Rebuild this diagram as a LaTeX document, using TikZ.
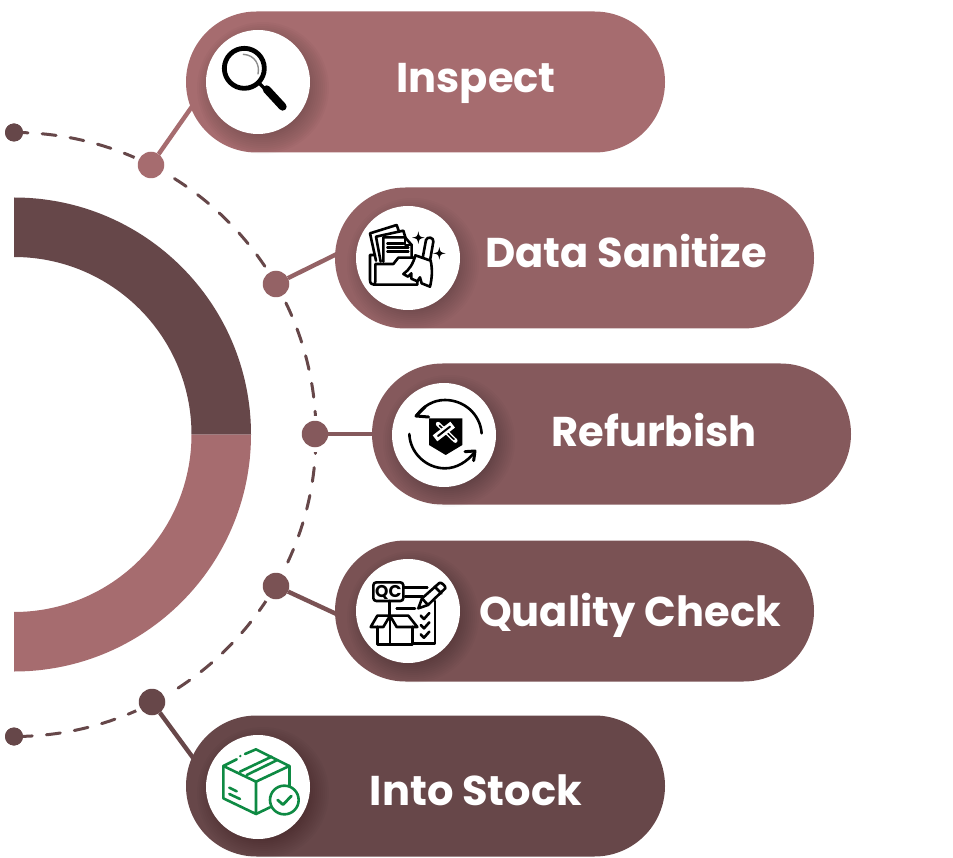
\documentclass[tikz,border=0pt]{standalone}
\usepackage{fontspec}
\setmainfont{Poppins}
\usetikzlibrary{shapes.misc}
\definecolor{cA}{HTML}{A66C6F}
\definecolor{cB}{HTML}{946265}
\definecolor{cC}{HTML}{85595C}
\definecolor{cD}{HTML}{7A5254}
\definecolor{cE}{HTML}{674749}
\definecolor{cDark}{HTML}{664749}
\definecolor{cGreen}{HTML}{0E8A43}
\tikzset{
  pill/.style={rounded rectangle,minimum width=479pt,minimum height=141pt,inner sep=0pt,outer sep=0pt,fill=#1},
  disc/.style={circle,minimum size=104pt,inner sep=0pt,outer sep=0pt,fill=white},
  dot/.style={circle,minimum size=26.5pt,inner sep=0pt,outer sep=0pt,fill=#1},
  halo/.style={circle,minimum size=36pt,inner sep=0pt,outer sep=0pt,fill=white},
  smalldot/.style={circle,minimum size=18pt,inner sep=0pt,outer sep=0pt,fill=cDark},
  conn/.style={line width=4.4pt,draw=#1},
  label/.style={anchor=base,text=white,font=\fontsize{41.6}{41.6}\selectfont\bfseries},
  iconat/.style 2 args={shift={(#1,#2)},x=0.33333pt,y=-0.33333pt,line join=round,line cap=round},
  ink/.style={draw=black,line width=2.6pt,fill=none},
  inkgreen/.style={draw=cGreen,line width=2.6pt,fill=none},
}
\newcommand{\softshadow}[2]{%
  \foreach \rr in {66,64,...,46}{\fill[black,opacity=0.018] (#1+5,#2+6) circle[radius=\rr pt];}}
\newcommand{\sparkle}[3]{\fill[black] (#1,#2-#3) .. controls (#1+3,#2-3) .. (#1+#3,#2) .. controls (#1+3,#2+3) .. (#1,#2+#3) .. controls (#1-3,#2+3) .. (#1-#3,#2) .. controls (#1-3,#2-3) .. (#1,#2-#3) -- cycle;}
\begin{document}
\begin{tikzpicture}[x=1pt,y=-1pt]
\useasboundingbox (0,0) rectangle (953,858);
% ring
\fill[cDark] (14,197.5) arc[start angle=90,end angle=0,radius=237pt] -- (191.5,434.5) arc[start angle=0,end angle=90,radius=177.5pt] -- cycle;
\fill[cA] (14,671.5) arc[start angle=-90,end angle=0,radius=237pt] -- (191.5,434.5) arc[start angle=0,end angle=-90,radius=177.5pt] -- cycle;
% dashed arc
\node[smalldot] (top) at (14,132.5) {};
\node[smalldot] (bot) at (14,736.5) {};
\draw[cDark,line width=3pt,line cap=round,dash pattern=on 14pt off 14.2pt] (top.center) arc[start angle=90,end angle=-90,radius=302pt];
\node[smalldot] at (top.center) {};
\node[smalldot] at (bot.center) {};
% dots and anchor points
\node[halo] at (151,165) {};
\node[halo] at (276,284) {};
\node[halo] at (315,434) {};
\node[halo] at (276,586) {};
\node[halo] at (152,702) {};
\node[dot=cA] (d1) at (151,165) {};
\node[dot=cB] (d2) at (276,284) {};
\node[dot=cC] (d3) at (315,434) {};
\node[dot=cD] (d4) at (276,586) {};
\node[dot=cE] (d5) at (152,702) {};
\coordinate (e1) at (198,98);
\coordinate (e2) at (345,250);
\coordinate (e3) at (380,434);
\coordinate (e4) at (345,618);
\coordinate (e5) at (202,770);
\draw[conn=cA] (d1) -- (e1);
\draw[conn=cB] (d2) -- (e2);
\draw[conn=cC] (d3) -- (e3);
\draw[conn=cD] (d4) -- (e4);
\draw[conn=cE] (d5) -- (e5);
% pills
\node[pill=cA] (p1) at (425.5,82) {};
\node[pill=cB] (p2) at (574.5,258) {};
\node[pill=cC] (p3) at (611.5,434) {};
\node[pill=cD] (p4) at (574.5,611) {};
\node[pill=cE] (p5) at (425.5,786) {};
\softshadow{258}{82}
\softshadow{408}{258}
\softshadow{444}{435}
\softshadow{408}{611}
\softshadow{258}{787}
\node[disc] (c1) at (258,82) {};
\node[disc] (c2) at (408,258) {};
\node[disc] (c3) at (444,435) {};
\node[disc] (c4) at (408,611) {};
\node[disc] (c5) at (258,787) {};
\node[label] (t1) at (476,93) {Inspect};
\node[label] (t2) at (626,268) {Data Sanitize};
\node[label] (t3) at (654,446) {Refurbish};
\node[label] (t4) at (630,626) {Quality Check};
\node[label] (t5) at (476,805) {Into Stock};
% magnifier
\begin{scope}[iconat={180}{0}]
\draw[black,line width=4.8pt] (193,205) circle[radius=60];
\draw[black!45,line width=1.4pt] (190,163) .. controls (225,165) and (240,195) .. (234,222);
\draw[black,line width=3.5pt,line cap=butt] (238,250) -- (258,270);
\draw[black,line width=8pt] (260,268) -- (308,320);
\end{scope}
% folder and broom
\begin{scope}[iconat={340}{190}]
\draw[ink] (108,212) -- (90,130) -- (170,105) -- (176,122);
\draw[ink] (122,215) -- (108,140) -- (190,122) -- (197,145);
\draw[ink] (130,215) -- (130,142) -- (195,142) -- (215,165) -- (215,202);
\draw[ink] (195,142) -- (195,165) -- (215,165);
\draw[ink] (142,160) -- (190,160) (142,172) -- (205,172) (142,185) -- (205,185);
\draw[ink] (105,195) -- (90,195) -- (90,270) .. controls (90,280) and (95,284) .. (102,284) -- (232,284) -- (232,272);
\draw[ink] (102,284) .. controls (108,280) and (106,270) .. (106,222) -- (160,222) -- (175,203) -- (225,203);
\draw[ink,fill=white] (248,204) -- (258,150) .. controls (262,138) and (282,142) .. (280,155) -- (270,212);
\draw[ink,fill=white] (226,196) -- (272,212) .. controls (278,240) and (276,265) .. (270,290) -- (245,280) -- (240,262) -- (232,274) -- (214,266) -- (214,250) -- (204,260) -- (190,252) .. controls (208,240) and (220,220) .. (226,196) -- cycle;
\sparkle{235}{143}{19}
\sparkle{298}{190}{19}
\end{scope}
% refurbish
\begin{scope}[iconat={380}{370}]
\draw[black,line width=2.6pt] (305,190) .. controls (300,130) and (250,90) .. (195,90) .. controls (160,90) and (130,108) .. (110,136);
\draw[black,line width=3pt] (136,110) -- (108,138) -- (146,141);
\draw[black,line width=2.6pt] (88,192) .. controls (90,250) and (140,295) .. (195,295) .. controls (230,295) and (262,275) .. (284,246);
\draw[black,line width=3pt] (255,245) -- (285,243) -- (281,272);
\fill[black] (147,145) -- (247,145) -- (247,225) -- (197,255) -- (147,225) -- cycle;
\draw[white,line width=4.4pt] (174,162) -- (226,212);
\draw[black,line width=1.6pt] (178,166) -- (222,208);
\draw[white,line width=7.5pt,line cap=butt] (218,164) -- (165,205);
\draw[black,line width=2pt] (210,170) -- (174,198);
\end{scope}
% quality check
\begin{scope}[iconat={340}{545}]
\draw[ink,rounded corners=3pt] (100,112) rectangle (190,168);
\node[text=black,font=\fontsize{17}{17}\selectfont\bfseries,inner sep=0pt] (qc) at (145,141) {QC};
\draw[ink] (148,168) -- (148,210);
\draw[ink] (190,128) -- (262,128) (285,168) -- (285,296) -- (220,296);
\draw[ink] (195,155) -- (248,155) (170,190) -- (225,190);
\draw[ink] (235,190) -- (246,160) -- (298,114) .. controls (304,110) and (318,124) .. (316,130) -- (264,180) -- cycle;
\draw[ink] (246,160) -- (264,180) (284,125) -- (304,145);
\draw[ink] (242,212) -- (252,222) -- (268,204);
\draw[ink] (242,240) -- (252,250) -- (268,232);
\draw[ink] (242,268) -- (252,278) -- (268,260);
\draw[ink] (112,245) -- (112,298) -- (218,298) -- (218,245);
\draw[ink] (150,212) -- (150,298);
\draw[ink] (150,212) -- (112,212) -- (92,246) -- (130,246) -- cycle;
\draw[ink] (150,212) -- (205,212) -- (232,246) -- (170,246) -- cycle;
\end{scope}
% into stock
\begin{scope}[iconat={190}{720}]
\draw[inkgreen] (140,118) -- (100,138) -- (198,185) -- (298,138) -- (198,88) -- (165,102);
\fill[cGreen] (151,108) circle[radius=4];
\draw[inkgreen] (100,138) -- (100,235) -- (198,282) -- (198,185);
\draw[inkgreen] (298,138) -- (298,200);
\draw[inkgreen] (198,282) -- (240,262);
\draw[inkgreen] (150,155) -- (245,110) (170,165) -- (262,120);
\draw[inkgreen] (118,203) -- (140,214) (118,222) -- (150,237);
\draw[inkgreen,fill=white] (283,240) circle[radius=43];
\draw[inkgreen,line width=2.8pt] (263,240) -- (279,254) -- (304,228);
\end{scope}
\end{tikzpicture}
\end{document}
